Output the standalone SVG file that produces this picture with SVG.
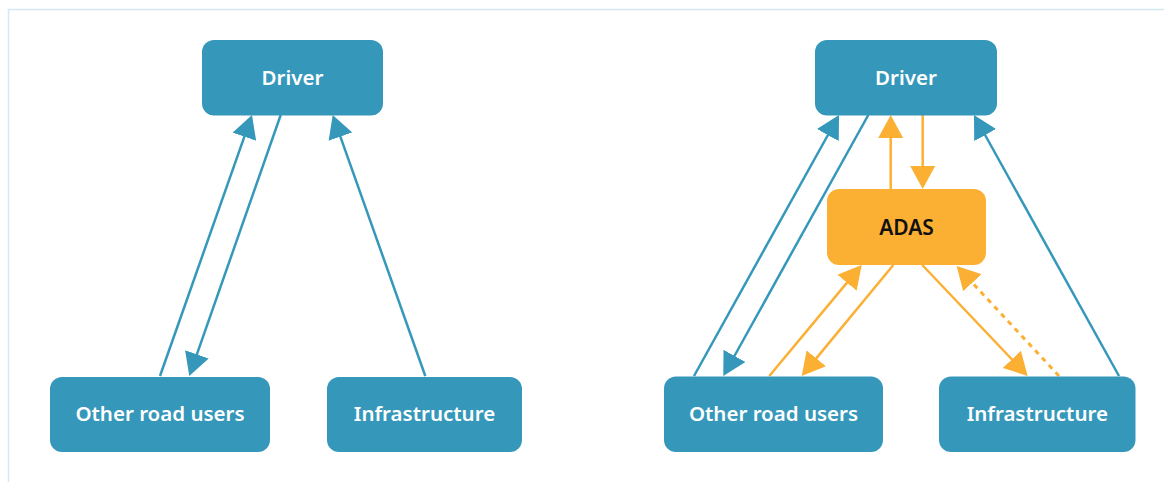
<svg xmlns="http://www.w3.org/2000/svg" width="1164" height="482" viewBox="0 0 1164 482">
<style>
.node{fill:#3598BA}
.adas{fill:#FBB034}
.lbl{font-family:"Noto Sans","Open Sans",sans-serif;font-weight:600;font-size:20.5px;fill:#FFFFFF;text-anchor:middle}
.lbl.dark{fill:#111111;font-size:21px}
.cb{stroke:#3598BA;stroke-width:2.5;fill:none;marker-end:url(#ab)}
.co{stroke:#FBB034;stroke-width:2.5;fill:none;marker-end:url(#ao)}
.dash{stroke-dasharray:5 5;stroke-width:3}
</style>
<defs>
<marker id="ab" markerUnits="userSpaceOnUse" markerWidth="23" markerHeight="25" viewBox="0 0 23 25" refX="3" refY="12.5" orient="auto"><path d="M0,0 L23,12.5 L0,25 z" fill="#3598BA"/></marker>
<marker id="ao" markerUnits="userSpaceOnUse" markerWidth="23" markerHeight="25" viewBox="0 0 23 25" refX="3" refY="12.5" orient="auto"><path d="M0,0 L23,12.5 L0,25 z" fill="#FBB034"/></marker>
</defs>
<rect width="1164" height="482" fill="#FFFFFF"/>
<path d="M8.5,482 V9.5 H1164" fill="none" stroke="#D3E8F1" stroke-width="1.5"/>
<g id="connectors">
<line class="cb" x1="160" y1="376" x2="245.35" y2="133.86"/>
<line class="cb" x1="280.7" y1="115" x2="195.9" y2="357.1"/>
<line class="cb" x1="425.3" y1="376" x2="339.4" y2="133.85"/>
<line class="cb" x1="694" y1="376" x2="829.3" y2="132.5"/>
<line class="cb" x1="868.3" y1="115" x2="733" y2="358.5"/>
<line class="cb" x1="1119" y1="376" x2="983.7" y2="132.5"/>
<line class="co" x1="890.7" y1="189" x2="890.7" y2="135"/>
<line class="co" x1="922.7" y1="115" x2="922.7" y2="169"/>
<line class="co" x1="769.3" y1="376" x2="848.9" y2="280.4"/>
<line class="co" x1="893.3" y1="265" x2="814.4" y2="360.6"/>
<line class="co" x1="922.3" y1="265" x2="1013.9" y2="361.5"/>
<line class="co dash" x1="1059" y1="376" x2="970.3" y2="280.6"/>
</g>
<g id="driver-left"><rect class="node" x="202" y="40" width="181" height="75.5" rx="12"/><text class="lbl" x="292.5" y="84.5">Driver</text></g>
<g id="oru-left"><rect class="node" x="50" y="377" width="220" height="75" rx="12"/><text class="lbl" x="160" y="421">Other road users</text></g>
<g id="infra-left"><rect class="node" x="327" y="377" width="195" height="75" rx="12"/><text class="lbl" x="424.5" y="421">Infrastructure</text></g>
<g id="driver-right"><rect class="node" x="815" y="40" width="182" height="75.5" rx="12"/><text class="lbl" x="906" y="84.5">Driver</text></g>
<g id="adas"><rect class="adas" x="827" y="189" width="159" height="76" rx="12"/><text class="lbl dark" x="906.5" y="235">ADAS</text></g>
<g id="oru-right"><rect class="node" x="664" y="376.5" width="219" height="75.5" rx="12"/><text class="lbl" x="773.5" y="421">Other road users</text></g>
<g id="infra-right"><rect class="node" x="939" y="376.5" width="196.5" height="75.5" rx="12"/><text class="lbl" x="1037.3" y="421">Infrastructure</text></g>
</svg>
